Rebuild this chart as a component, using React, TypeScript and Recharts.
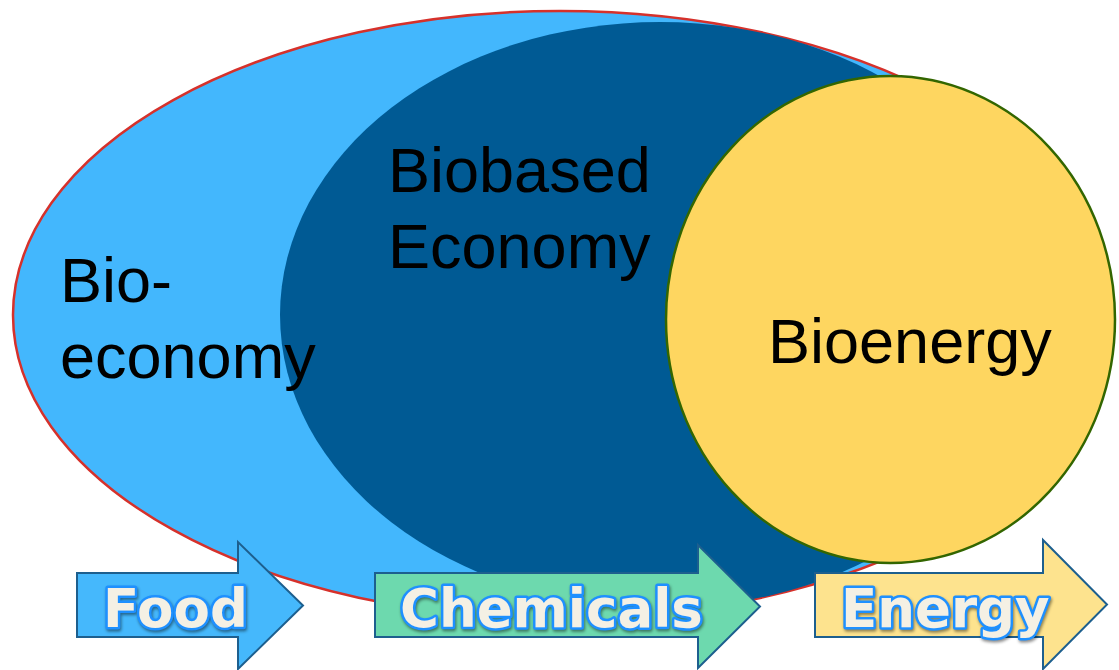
import React from 'react';
import { ScatterChart, XAxis, YAxis, ReferenceArea, ReferenceDot } from 'recharts';

// Diagram regions (in axis units: x 0..1119, y 0..670 top-down)
const regionNames = ['Bio-economy', 'Biobased Economy', 'Bioenergy'];
const regionLeft = [13, 280, 666];
const regionRight = [1107, 1040, 1115];
const regionTop = [11, 22, 76];
const regionBottom = [619, 608, 563];
const regionFill = ['#43B7FD', '#005A94', '#FED660'];
const regionStroke = ['#D6312B', 'none', '#336600'];

// Region labels
const regionLabelLines = [['Bio-', 'economy'], ['Biobased', 'Economy'], ['Bioenergy']];
const regionLabelX = [60, 388, 768];
const regionLabelY = [302, 192, 363];

// Flow arrows
const flowNames = ['Food', 'Chemicals', 'Energy'];
const flowStart = [77, 375, 815];
const flowHeadStart = [238, 698, 1043];
const flowTip = [303, 760, 1107];
const flowHeadTop = [542, 545, 540];
const flowHeadBottom = [669, 668, 669];
const flowBodyTop = [573, 573, 573];
const flowBodyBottom = [637, 637, 637];
const flowFill = ['#45B8FC', '#6DD9AE', '#FDE38E'];
const flowLabelX = [103, 400, 841];
const flowLabelY = [627, 627, 627];

const ellipseShape = (fill: string, stroke: string) => (p: any) => (
  <ellipse
    cx={p.x + p.width / 2}
    cy={p.y + p.height / 2}
    rx={p.width / 2}
    ry={p.height / 2}
    fill={fill}
    stroke={stroke}
    strokeWidth={stroke === 'none' ? 0 : 2.5}
  />
);

const arrowShape = (i: number) => (p: any) => {
  const span = flowTip[i] - flowStart[i];
  const hgt = flowHeadBottom[i] - flowHeadTop[i];
  const hf = (flowHeadStart[i] - flowStart[i]) / span;
  const btf = (flowBodyTop[i] - flowHeadTop[i]) / hgt;
  const bbf = (flowBodyBottom[i] - flowHeadTop[i]) / hgt;
  const x0 = p.x;
  const y0 = p.y;
  const w = p.width;
  const h = p.height;
  const hx = x0 + w * hf;
  const bt = y0 + h * btf;
  const bb = y0 + h * bbf;
  const pts = [
    [x0, bt],
    [hx, bt],
    [hx, y0],
    [x0 + w, y0 + h / 2],
    [hx, y0 + h],
    [hx, bb],
    [x0, bb],
  ]
    .map((q) => q.join(','))
    .join(' ');
  return <polygon points={pts} fill={flowFill[i]} stroke="#1D5F8E" strokeWidth={2} strokeLinejoin="miter" />;
};

const regionTextShape = (i: number) => (p: any) => (
  <text
    x={p.cx}
    y={p.cy}
    fontFamily="'Liberation Sans', Arial, sans-serif"
    fontSize={63}
    fill="#000"
  >
    {regionLabelLines[i].map((line, k) => (
      <tspan key={k} x={p.cx} dy={k === 0 ? 0 : 75.5}>
        {line}
      </tspan>
    ))}
  </text>
);

const flowTextShape = (i: number) => (p: any) => (
  <text
    x={p.cx}
    y={p.cy}
    fontFamily="'DejaVu Sans', Verdana, sans-serif"
    fontWeight="bold"
    fontSize={53}
    fill="#F4F0E4"
    stroke="#1E90FF"
    strokeWidth={5}
    strokeLinejoin="round"
    paintOrder="stroke"
    style={{ filter: 'drop-shadow(1px 2px 1.5px rgba(0,0,0,0.45))' }}
  >
    {flowNames[i]}
  </text>
);

export default function App() {
  return (
    <div style={{ position: 'absolute', left: 0, top: 0, width: 1119, height: 670, background: '#fff' }}>
      <ScatterChart width={1119} height={670} margin={{ top: 0, right: 0, bottom: 0, left: 0 }}>
        <XAxis type="number" dataKey="x" domain={[0, 1119]} hide allowDataOverflow />
        <YAxis type="number" dataKey="y" domain={[0, 670]} reversed hide allowDataOverflow />
        {regionNames.map((n, i) => (
          <ReferenceArea
            key={n}
            x1={regionLeft[i]}
            x2={regionRight[i]}
            y1={regionTop[i]}
            y2={regionBottom[i]}
            ifOverflow="visible"
            shape={ellipseShape(regionFill[i], regionStroke[i])}
          />
        ))}
        {flowNames.map((n, i) => (
          <ReferenceArea
            key={n}
            x1={flowStart[i]}
            x2={flowTip[i]}
            y1={flowHeadTop[i]}
            y2={flowHeadBottom[i]}
            ifOverflow="visible"
            shape={arrowShape(i)}
          />
        ))}
        {regionNames.map((n, i) => (
          <ReferenceDot
            key={'t' + n}
            x={regionLabelX[i]}
            y={regionLabelY[i]}
            ifOverflow="visible"
            shape={regionTextShape(i)}
          />
        ))}
        {flowNames.map((n, i) => (
          <ReferenceDot
            key={'f' + n}
            x={flowLabelX[i]}
            y={flowLabelY[i]}
            ifOverflow="visible"
            shape={flowTextShape(i)}
          />
        ))}
      </ScatterChart>
    </div>
  );
}
